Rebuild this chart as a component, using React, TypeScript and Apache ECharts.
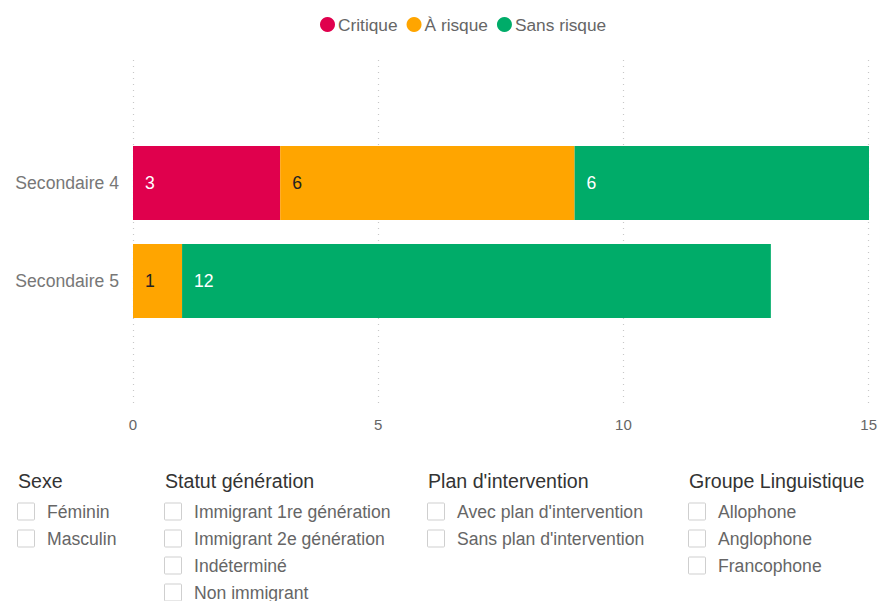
import React, { useEffect, useRef } from "react";
import * as echarts from "echarts";

const categories = ["Secondaire 4", "Secondaire 5"];
const seriesNames = ["Critique", "À risque", "Sans risque"];
const critique = [3, 0];
const aRisque = [6, 1];
const sansRisque = [6, 12];
const xTicks = { min: 0, max: 15, interval: 5 };

const filterTitles = ["Sexe", "Statut génération", "Plan d'intervention", "Groupe Linguistique"];
const filterSexe = ["Féminin", "Masculin"];
const filterStatut = ["Immigrant 1re génération", "Immigrant 2e génération", "Indéterminé", "Non immigrant"];
const filterPlan = ["Avec plan d'intervention", "Sans plan d'intervention"];
const filterLangue = ["Allophone", "Anglophone", "Francophone"];

const COLORS = ["#E0004D", "#FFA500", "#00AC69"];
const LABEL_COLORS = ["#ffffff", "#222222", "#ffffff"];
const FONT = "'Liberation Sans', Arial, sans-serif";

export default function App() {
  const ref = useRef<HTMLDivElement>(null);
  useEffect(() => {
    if (!ref.current) return;
    const chart = echarts.init(ref.current, undefined, { renderer: "svg" });

    const groups = [filterSexe, filterStatut, filterPlan, filterLangue];
    const colX = [17, 164, 427, 688];
    const graphics: any[] = [];
    groups.forEach((items, gi) => {
      const x = colX[gi];
      graphics.push({
        type: "text",
        left: x + 1,
        top: 471,
        style: { text: filterTitles[gi], fontSize: 19.6, fill: "#333", fontFamily: FONT },
      });
      items.forEach((it, ii) => {
        const cy = 511.5 + ii * 27;
        graphics.push({
          type: "rect",
          shape: { x: x + 0.5, y: cy - 8.5, width: 17, height: 17, r: 1 },
          style: { fill: "#fff", stroke: "#cfcfcf", lineWidth: 1 },
        });
        graphics.push({
          type: "text",
          x: x + 30,
          y: cy,
          style: {
            text: it,
            fontSize: 17.6,
            fill: "#666",
            fontFamily: FONT,
            verticalAlign: "middle",
            align: "left",
          },
        });
      });
    });

    const dataSets = [critique, aRisque, sansRisque];
    chart.setOption({
      animation: false,
      textStyle: { fontFamily: FONT },
      color: COLORS,
      legend: {
        data: seriesNames,
        left: 315,
        top: 11,
        icon: "circle",
        itemWidth: 15,
        itemHeight: 15,
        itemGap: 9,
        textStyle: { fontSize: 17.3, color: "#666", fontFamily: FONT, padding: [0, 0, 0, -2] },
      },
      grid: [
        { left: 133, right: 11, top: 60, height: 348 },
        { left: 133, right: 11, top: 134, height: 196 },
      ],
      xAxis: [
        {
          gridIndex: 0,
          type: "value",
          min: xTicks.min,
          max: xTicks.max,
          interval: xTicks.interval,
          axisLine: { show: false },
          axisTick: { show: false },
          axisLabel: { color: "#666", fontSize: 15, margin: 9, fontFamily: FONT },
          splitLine: { show: true, lineStyle: { type: [1, 5], color: "#c8c8c8", width: 1.2 } },
        },
        {
          gridIndex: 1,
          type: "value",
          min: xTicks.min,
          max: xTicks.max,
          interval: xTicks.interval,
          show: false,
          splitLine: { show: false },
        },
      ],
      yAxis: [
        { gridIndex: 0, type: "value", show: false, splitLine: { show: false } },
        {
          gridIndex: 1,
          type: "category",
          data: categories,
          inverse: true,
          axisLine: { show: false },
          axisTick: { show: false },
          axisLabel: { color: "#777", fontSize: 17.6, margin: 14, fontFamily: FONT },
          splitLine: { show: false },
        },
      ],
      series: seriesNames.map((name, i) => ({
        name,
        type: "bar",
        stack: "total",
        xAxisIndex: 1,
        yAxisIndex: 1,
        data: dataSets[i],
        barWidth: 74,
        itemStyle: { color: COLORS[i] },
        label: {
          show: true,
          position: "insideLeft",
          distance: 12,
          color: LABEL_COLORS[i],
          fontSize: 17.6,
          fontFamily: FONT,
          formatter: (p: any) => (p.value ? String(p.value) : ""),
        },
      })),
      graphic: graphics,
    });
    return () => chart.dispose();
  }, []);
  return (
    <div
      ref={ref}
      style={{ position: "fixed", left: 0, top: 0, width: 880, height: 601, background: "#fff" }}
    />
  );
}
